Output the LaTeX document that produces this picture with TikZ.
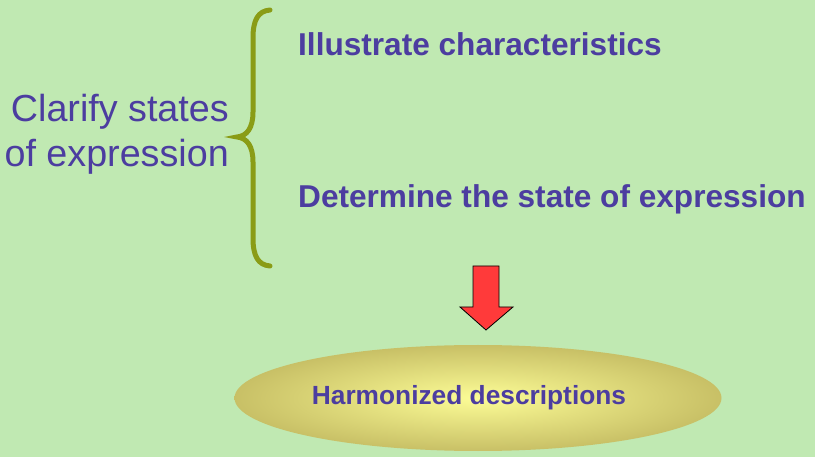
\documentclass[tikz,border=0pt]{standalone}
\usepackage{fontspec}
\setmainfont{Liberation Sans}
\usepackage{xcolor}
\usepackage{tikz}
\usetikzlibrary{shapes,arrows,positioning,calc}

\definecolor{bgGreen}{RGB}{192,233,178}
\definecolor{txtPurple}{RGB}{76,61,160}
\definecolor{braceOlive}{RGB}{138,156,22}
\definecolor{ovalIn}{RGB}{252,252,150}
\definecolor{ovalOut}{RGB}{200,192,102}
\definecolor{arrowRed}{RGB}{255,58,58}

\begin{document}
\begin{tikzpicture}[
    x=1pt, y=-1pt,
    lead/.style={text=txtPurple, align=right, inner sep=0pt, font=\fontsize{37.7}{45}\selectfont},
    item/.style={text=txtPurple, inner sep=0pt, font=\fontsize{31.6}{38}\selectfont\bfseries},
    oval/.style={ellipse, minimum width=487pt, minimum height=106pt, inner sep=0pt, inner color=ovalIn, outer color=ovalOut, text=txtPurple, font=\fontsize{26.3}{32}\selectfont\bfseries},
    brace/.style={draw=braceOlive, line width=5pt, line cap=round}
]
% Background and frame
\fill[bgGreen] (0,0) rectangle (815,457);
\useasboundingbox (0,0) rectangle (815,457);

% Left label and items
\node[lead, anchor=east] (clarify) at (229,134) {Clarify states\\of expression};
\node[item, anchor=base west] (illus) at (298,56) {Illustrate characteristics};
\node[item, anchor=base west] (determ) at (298,208) {Determine the state of expression};

% Curly brace
\coordinate (btop) at (270,10);
\coordinate (btip) at (237,137);
\coordinate (bbot) at (270,266);
\draw[brace] (btop) .. controls (258,11) and (253,20) .. (253,38)
    -- (253,112) .. controls (253,128) and (247,136) .. (btip)
    .. controls (247,138) and (253,146) .. (253,162)
    -- (253,238) .. controls (253,256) and (258,265) .. (bbot);

% Block arrow
\filldraw[fill=arrowRed, draw=black, line width=0.8pt]
    (473,266) -- (499,266) -- (499,307) -- (513,307) -- (486,330)
    -- (460,307) -- (473,307) -- cycle;

% Result
\node[oval] (harm) at (478,398) {\hspace*{-18pt}Harmonized descriptions};
\end{tikzpicture}
\end{document}
